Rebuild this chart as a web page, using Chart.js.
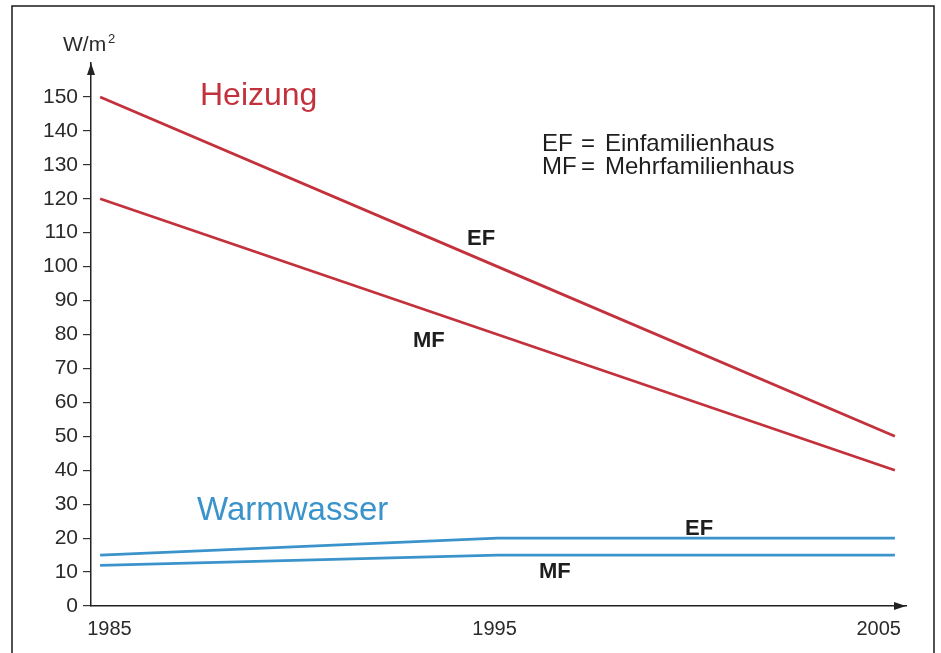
<!DOCTYPE html>
<html>
<head>
<meta charset="utf-8">
<script src="https://cdn.jsdelivr.net/npm/chart.js@4"></script>
<style>
  html, body { margin: 0; padding: 0; background: #fff; }
  canvas { display: block; }
</style>
</head>
<body>
<canvas id="chart" width="941" height="653"></canvas>
<script>
// data
const years = [1985, 1995, 2005];
const heizungEF = [150, 100, 50];
const heizungMF = [120, 80, 40];
const warmwasserEF = [15, 20, 20];
const warmwasserMF = [12, 15, 15];
const yTicks = [0, 10, 20, 30, 40, 50, 60, 70, 80, 90, 100, 110, 120, 130, 140, 150];
const xTicks = [1985, 1995, 2005];

const RED = '#c3313c';
const BLUE = '#3a93ca';
const FONT = '"Liberation Sans", Arial, sans-serif';

const toPoints = (vals) => vals.map((v, i) => ({ x: years[i], y: v }));

// frame, arrows and the texts on top of the chart
const extras = {
  id: 'extras',
  afterDraw(chart) {
    const ctx = chart.ctx;
    const { left, right, top, bottom } = chart.chartArea;
    ctx.save();

    // frame round the picture
    ctx.strokeStyle = '#1a1a1a';
    ctx.lineWidth = 1.5;
    ctx.beginPath();
    ctx.moveTo(12, 660);
    ctx.lineTo(12, 6);
    ctx.lineTo(934, 6);
    ctx.lineTo(934, 660);
    ctx.stroke();

    // axis arrows
    ctx.fillStyle = '#222';
    ctx.beginPath();
    ctx.moveTo(left, top);
    ctx.lineTo(left - 4, top + 12);
    ctx.lineTo(left + 4, top + 12);
    ctx.closePath();
    ctx.fill();
    ctx.beginPath();
    ctx.moveTo(right, bottom);
    ctx.lineTo(right - 12, bottom - 4);
    ctx.lineTo(right - 12, bottom + 4);
    ctx.closePath();
    ctx.fill();

    // x labels
    const xs = chart.scales.x;
    ctx.fillStyle = '#2a2a2a';
    ctx.font = '20px ' + FONT;
    ctx.textBaseline = 'alphabetic';
    xTicks.forEach((t, i) => {
      const px = xs.getPixelForValue(t);
      if (i === 0) { ctx.textAlign = 'left'; ctx.fillText(String(t), px - 13, 635); }
      else if (i === xTicks.length - 1) { ctx.textAlign = 'right'; ctx.fillText(String(t), px + 6, 635); }
      else { ctx.textAlign = 'center'; ctx.fillText(String(t), px - 3, 635); }
    });

    // unit
    ctx.textAlign = 'left';
    ctx.font = '21px ' + FONT;
    ctx.fillText('W/m', 63, 51);
    ctx.font = '13px ' + FONT;
    ctx.fillText('2', 108, 43);

    // group titles
    ctx.font = '32px ' + FONT;
    ctx.fillStyle = RED;
    ctx.fillText('Heizung', 200, 105);
    ctx.font = '33px ' + FONT;
    ctx.fillStyle = BLUE;
    ctx.fillText('Warmwasser', 197, 520);

    // key
    ctx.fillStyle = '#1e1e1e';
    ctx.font = '24px ' + FONT;
    ctx.fillText('EF', 542, 151);
    ctx.fillText('=', 581, 151);
    ctx.fillText('Einfamilienhaus', 605, 151);
    ctx.fillText('MF', 542, 174);
    ctx.fillText('=', 581, 174);
    ctx.fillText('Mehrfamilienhaus', 605, 174);

    // line labels
    ctx.font = 'bold 22px ' + FONT;
    ctx.fillText('EF', 467, 245);
    ctx.fillText('MF', 413, 347);
    ctx.fillText('EF', 685, 535);
    ctx.fillText('MF', 539, 578);

    ctx.restore();
  }
};

new Chart(document.getElementById('chart').getContext('2d'), {
  type: 'line',
  data: {
    datasets: [
      { label: 'Heizung EF', data: toPoints(heizungEF), borderColor: RED },
      { label: 'Heizung MF', data: toPoints(heizungMF), borderColor: RED },
      { label: 'Warmwasser EF', data: toPoints(warmwasserEF), borderColor: BLUE },
      { label: 'Warmwasser MF', data: toPoints(warmwasserMF), borderColor: BLUE },
    ],
  },
  options: {
    responsive: false,
    animation: false,
    devicePixelRatio: 1,
    layout: { padding: { left: 0, right: 35, top: 63, bottom: 0 } },
    elements: {
      line: { borderWidth: 2.8, tension: 0, fill: false },
      point: { radius: 0, hoverRadius: 0 },
    },
    plugins: {
      legend: { display: false },
      tooltip: { enabled: false },
    },
    scales: {
      x: {
        type: 'linear',
        min: 1984.77,
        max: 2005.28,
        ticks: { display: false },
        grid: { display: false },
        border: { display: true, color: '#222', width: 1.5 },
        afterFit: (scale) => { scale.height = 47; },
      },
      y: {
        min: 0,
        max: 160,
        afterBuildTicks: (scale) => { scale.ticks = yTicks.map((v) => ({ value: v })); },
        ticks: {
          color: '#2a2a2a',
          padding: 5,
          font: { family: FONT, size: 21 },
        },
        grid: {
          drawOnChartArea: false,
          drawTicks: true,
          tickLength: 8,
          color: '#333',
          lineWidth: 1.2,
        },
        border: { display: true, color: '#222', width: 1.5 },
        afterFit: (scale) => { scale.width = 91; },
      },
    },
  },
  plugins: [extras],
});
</script>
</body>
</html>
